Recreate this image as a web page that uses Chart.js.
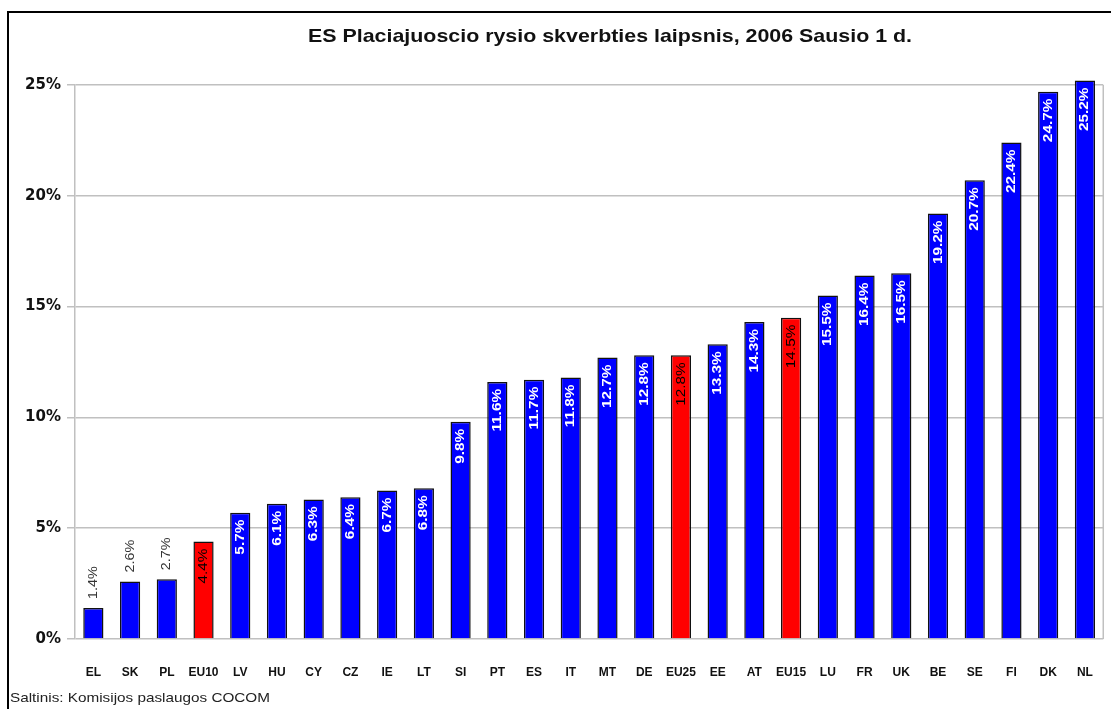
<!DOCTYPE html>
<html>
<head>
<meta charset="utf-8">
<script src="https://cdn.jsdelivr.net/npm/chart.js"></script>
<style>
  body { margin: 0; background: #fff; }
  #wrap { width: 1111px; height: 709px; }
</style>
</head>
<body>
<div id="wrap"><canvas id="chart" width="1111" height="709"></canvas></div>
<script>
// data
var countries = ["EL","SK","PL","EU10","LV","HU","CY","CZ","IE","LT","SI","PT","ES","IT","MT","DE","EU25","EE","AT","EU15","LU","FR","UK","BE","SE","FI","DK","NL"];
var penetration = [1.4,2.6,2.7,4.4,5.7,6.1,6.3,6.4,6.7,6.8,9.8,11.6,11.7,11.8,12.7,12.8,12.8,13.3,14.3,14.5,15.5,16.4,16.5,19.2,20.7,22.4,24.7,25.2];
var eurozones = ["EU10","EU25","EU15"];
var yTicks = [0,5,10,15,20,25];

var titleText = "ES Placiajuoscio rysio skverbties laipsnis, 2006 Sausio 1 d.";
var sourceText = "Saltinis: Komisijos paslaugos COCOM";

var barColors = countries.map(function(c) {
  return eurozones.indexOf(c) >= 0 ? "#ff0000" : "#0000ff";
});

// draw text squeezed/stretched horizontally to a given width
function fitText(ctx, txt, x, y, width) {
  var w = ctx.measureText(txt).width;
  ctx.save();
  ctx.translate(x, y);
  ctx.scale(width / w, 1);
  ctx.fillText(txt, 0, 0);
  ctx.restore();
}

// frame, title, source line and value labels
var decor = {
  id: "decor",
  beforeDraw: function(chart) {
    var ctx = chart.ctx;
    ctx.save();
    ctx.fillStyle = "#fff";
    ctx.fillRect(0, 0, chart.width, chart.height);
    ctx.strokeStyle = "#000";
    ctx.lineWidth = 2;
    ctx.strokeRect(8, 12, 1200, 1000);
    ctx.restore();
  },
  afterDatasetsDraw: function(chart) {
    var ctx = chart.ctx;
    var area = chart.chartArea;
    ctx.save();
    // right plot border
    ctx.strokeStyle = "#c0c0c0";
    ctx.lineWidth = 1.5;
    ctx.beginPath();
    ctx.moveTo(area.right, area.top);
    ctx.lineTo(area.right, area.bottom);
    ctx.stroke();

    // title
    ctx.fillStyle = "#111";
    ctx.font = "bold 19px 'Liberation Sans', Arial, sans-serif";
    ctx.textAlign = "center";
    ctx.textBaseline = "middle";
    fitText(ctx, titleText, 610, 37, 604);

    // source
    ctx.font = "13px 'Liberation Sans', Arial, sans-serif";
    ctx.textAlign = "left";
    ctx.fillStyle = "#222";
    fitText(ctx, sourceText, 10, 698, 260);

    // value labels, rotated
    var meta = chart.getDatasetMeta(0);
    meta.data.forEach(function(bar, i) {
      var v = penetration[i];
      var txt = v.toFixed(1) + "%";
      ctx.save();
      var inside = v >= 4;
      if (inside) {
        ctx.translate(bar.x, bar.y + 7);
        ctx.rotate(-Math.PI / 2);
        ctx.scale(1.18, 1);
        ctx.textAlign = "right";
        if (eurozones.indexOf(countries[i]) >= 0) {
          ctx.font = "13px 'Liberation Sans', Arial, sans-serif";
          ctx.fillStyle = "#000";
        } else {
          ctx.font = "bold 13px 'Liberation Sans', Arial, sans-serif";
          ctx.fillStyle = "#fff";
        }
      } else {
        ctx.translate(bar.x, bar.y - 9);
        ctx.rotate(-Math.PI / 2);
        ctx.scale(1.1, 1);
        ctx.textAlign = "left";
        ctx.font = "13px 'Liberation Sans', Arial, sans-serif";
        ctx.fillStyle = "#333";
      }
      ctx.textBaseline = "middle";
      ctx.fillText(txt, 0, 0);
      ctx.restore();
    });
    ctx.restore();
  }
};

var ctx = document.getElementById("chart");

var data = {
  labels: countries,
  datasets: [
    {
      label: "Penetration",
      data: penetration,
      backgroundColor: barColors,
      borderColor: "#111",
      borderWidth: 1.5,
      barPercentage: 0.55,
      categoryPercentage: 1,
      clip: false
    }
  ]
};

var options = {
  responsive: false,
  animation: false,
  layout: { padding: { top: 85, right: 6, left: 0, bottom: 0 } },
  plugins: {
    legend: { display: false },
    title: { display: false },
    tooltip: { enabled: false }
  },
  scales: {
    x: {
      grid: { display: false },
      border: { display: false },
      ticks: {
        color: "#111",
        font: { family: "'Liberation Sans', Arial, sans-serif", size: 12, weight: "bold" },
        maxRotation: 0,
        autoSkip: false,
        padding: 18
      },
      afterFit: function(scale) { scale.height = 70; }
    },
    y: {
      min: 0,
      max: 25,
      afterBuildTicks: function(scale) {
        scale.ticks = yTicks.map(function(v) { return { value: v }; });
      },
      grid: { color: "#c0c0c0", lineWidth: 1.5, tickLength: 8 },
      border: { color: "#c0c0c0", width: 1.5 },
      ticks: {
        color: "#111",
        font: { family: "'DejaVu Sans', sans-serif", size: 15, weight: "bold" },
        padding: 6,
        callback: function(v) { return v + "%"; }
      },
      afterFit: function(scale) { scale.width = 75; }
    }
  }
};

var chart = new Chart(ctx, {
  type: "bar",
  data: data,
  options: options,
  plugins: [decor]
});
</script>
</body>
</html>
